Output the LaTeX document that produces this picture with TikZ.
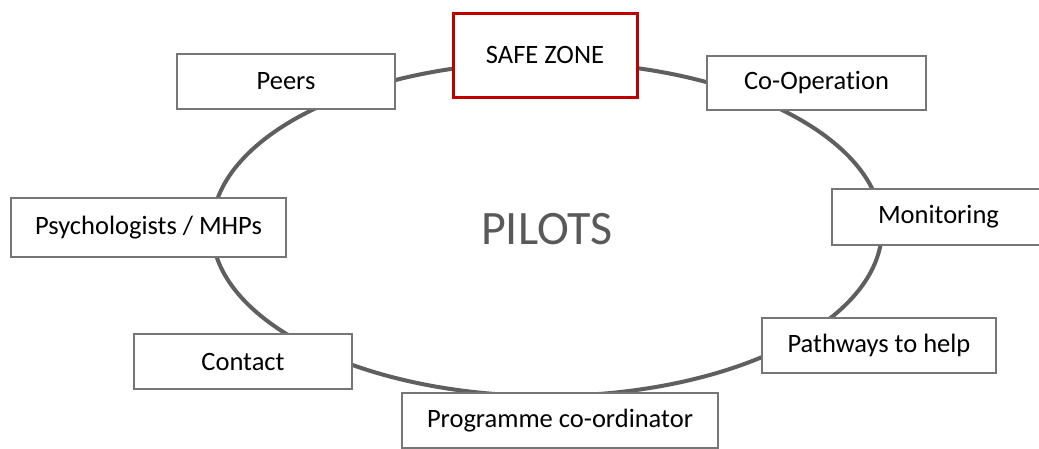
\documentclass[tikz,border=0pt]{standalone}
\usepackage{fontspec}
\setmainfont[RawFeature=-liga]{Carlito}
\usetikzlibrary{shapes.geometric}
\definecolor{ringgray}{HTML}{5F5F5F}
\definecolor{boxgray}{HTML}{767676}
\definecolor{safered}{HTML}{C00000}
\definecolor{pilotgray}{HTML}{595959}
\tikzset{
  itembox/.style={draw=boxgray, line width=2.2pt, fill=white, rectangle,
    inner sep=0pt, font=\fontsize{26.5}{30}\selectfont, text=black},
  ringshape/.style={draw=ringgray, line width=4pt, ellipse, inner sep=0pt,
    font=\fontsize{48}{54}\selectfont, text=pilotgray},
  safebox/.style={itembox, draw=safered, line width=3pt}
}
\begin{document}
\begin{tikzpicture}[x=1pt,y=-1pt]
\useasboundingbox (0,0) rectangle (1039,448);
\clip (0,0) rectangle (1039,448);
\fill[white] (0,0) rectangle (1039,448);
\node[ringshape, minimum width=670pt, minimum height=334pt] (ring) at (547,229) {PILOTS};
\node[itembox, minimum width=218pt, minimum height=55pt] (peers) at (286,81.5) {Peers};
\node[safebox, minimum width=184pt, minimum height=84pt] (safe) at (545,55) {SAFE ZONE};
\node[itembox, minimum width=219pt, minimum height=54pt] (coop) at (816.5,83) {Co-Operation};
\node[itembox, minimum width=213pt, minimum height=56pt] (mon) at (938.5,217) {Monitoring};
\node[itembox, minimum width=275pt, minimum height=59pt] (psych) at (148.5,227.5) {Psychologists / MHPs};
\node[itembox, minimum width=218pt, minimum height=55pt] (contact) at (243,361.5) {Contact};
\node[itembox, minimum width=316pt, minimum height=55pt] (prog) at (560,420.5) {Programme co-ordinator};
\node[itembox, minimum width=234pt, minimum height=55pt] (path) at (879,345.5) {Pathways to help};
\end{tikzpicture}
\end{document}
